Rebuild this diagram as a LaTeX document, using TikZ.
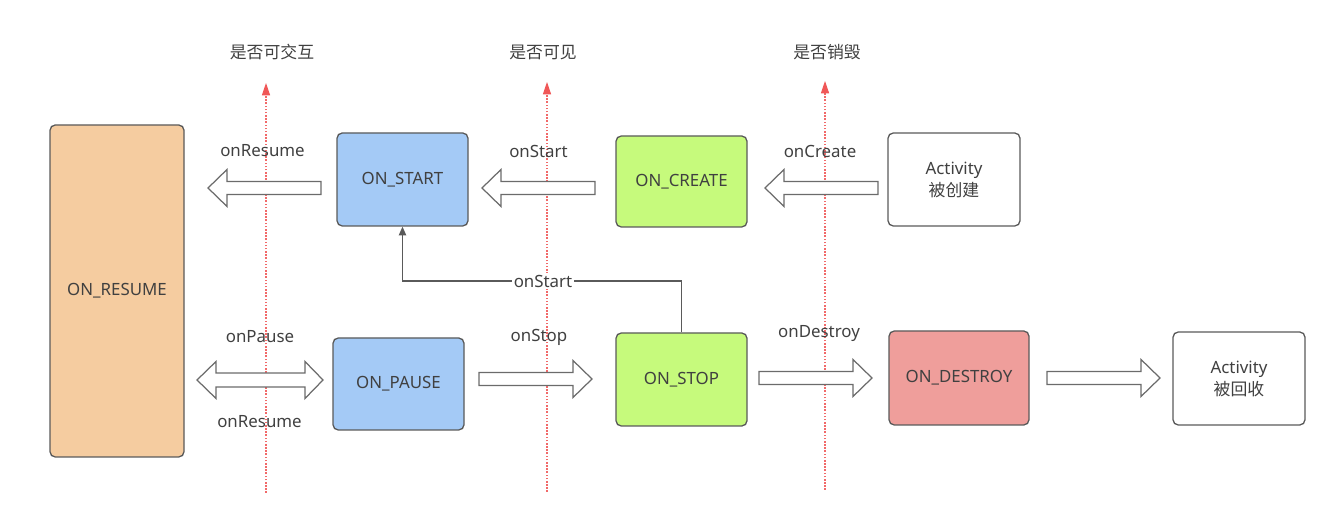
\documentclass[tikz,border=0pt]{standalone}
\usepackage{fontspec}
\setmainfont{Noto Sans}
\newfontfamily\cjk{Noto Sans CJK SC}
\usetikzlibrary{arrows.meta}
\definecolor{txt}{HTML}{404040}
\definecolor{edge}{HTML}{5A5A5A}
\definecolor{peach}{HTML}{F5CCA0}
\definecolor{sky}{HTML}{A4CAF6}
\definecolor{lime}{HTML}{C6FA7C}
\definecolor{rose}{HTML}{EF9E9B}
\definecolor{redline}{HTML}{EE4444}
\def\px{0.02cm}
\tikzset{
  every node/.style={font=\fontsize{9.6}{12.5}\selectfont, text=txt},
  state/.style={draw=edge, line width=0.75pt, rounded corners=3pt, minimum width=131*\px, minimum height=93*\px, align=center},
  barrow/.style={draw=edge!90, fill=white, line width=0.7pt, line join=miter},
  axisline/.style={draw=redline!80, line width=0.6pt, dash pattern=on 0.9pt off 0.9pt, -{Triangle[length=7pt,width=4.6pt,color=redline!90,fill=redline!90]}},
  conn/.style={draw=edge, line width=0.75pt, -{Triangle[length=5pt,width=4.2pt]}},
  larrow/.pic={\draw[barrow] (0,0) -- (19,-18.5) -- (19,-6.5) -- (113,-6.5) -- (113,6.5) -- (19,6.5) -- (19,18.5) -- cycle;},
  rarrow/.pic={\draw[barrow] (0,0) -- (-19,-18.5) -- (-19,-6.5) -- (-113,-6.5) -- (-113,6.5) -- (-19,6.5) -- (-19,18.5) -- cycle;},
  darrow/.pic={\draw[barrow] (0,0) -- (19,-18.5) -- (19,-7) -- (108,-7) -- (108,-18.5) -- (126,0) -- (108,18.5) -- (108,7) -- (19,7) -- (19,18.5) -- cycle;}
}
\begin{document}
\begin{tikzpicture}[x=0.02cm, y=-0.02cm]
\useasboundingbox (0,0) rectangle (1318,516);

% vertical red axes
\coordinate (a1b) at (266,493); \coordinate (a1t) at (266,83);
\coordinate (a2b) at (547,492); \coordinate (a2t) at (547,82);
\coordinate (a3b) at (825,490); \coordinate (a3t) at (825,81);
\draw[axisline] (a1b) -- (a1t);
\draw[axisline] (a2b) -- (a2t);
\draw[axisline] (a3b) -- (a3t);
\node (t1) at (272,52) {\cjk 是否可交互};
\node (t2) at (543,52) {\cjk 是否可见};
\node (t3) at (827,52) {\cjk 是否销毁};

% states
\node[state, fill=peach, minimum width=134*\px, minimum height=332*\px] (resume) at (117,291) {ON\_RESUME};
\node[state, fill=sky] (start) at (402.5,179.5) {ON\_START};
\node[state, fill=lime, minimum height=91*\px] (create) at (681.5,181.5) {ON\_CREATE};
\node[state, fill=white, minimum width=132*\px] (act1) at (954,179.5) {Activity\\{\cjk 被创建}};
\node[state, fill=sky, minimum height=92*\px] (pause) at (398.5,384) {ON\_PAUSE};
\node[state, fill=lime] (stop) at (681.5,379.5) {ON\_STOP};
\node[state, fill=rose, minimum width=140*\px, minimum height=94*\px] (destroy) at (959,378) {ON\_DESTROY};
\node[state, fill=white, minimum width=132*\px] (act2) at (1239,378.5) {Activity\\{\cjk 被回收}};

% block arrows
\pic at (208,188) {larrow};
\pic at (482,188) {larrow};
\pic at (765,188) {larrow};
\pic at (197,380) {darrow};
\pic at (592,379) {rarrow};
\pic at (872,378) {rarrow};
\pic at (1160,378) {rarrow};

% labels
\node (l1) at (262.5,151) {onResume};
\node (l2) at (538.5,151) {onStart};
\node (l3) at (820,151) {onCreate};
\node (l4) at (260,337) {onPause};
\node (l5) at (259.5,422) {onResume};
\node (l6) at (539,337) {onStop};
\node (l7) at (819,334) {onDestroy};

% onStart connector
\coordinate (bend) at (681.5,281);
\draw[conn] (stop.north) -- (bend) -| (start.south);
\node[fill=white, inner sep=1pt] (l8) at (543,281) {onStart};
\end{tikzpicture}
\end{document}
